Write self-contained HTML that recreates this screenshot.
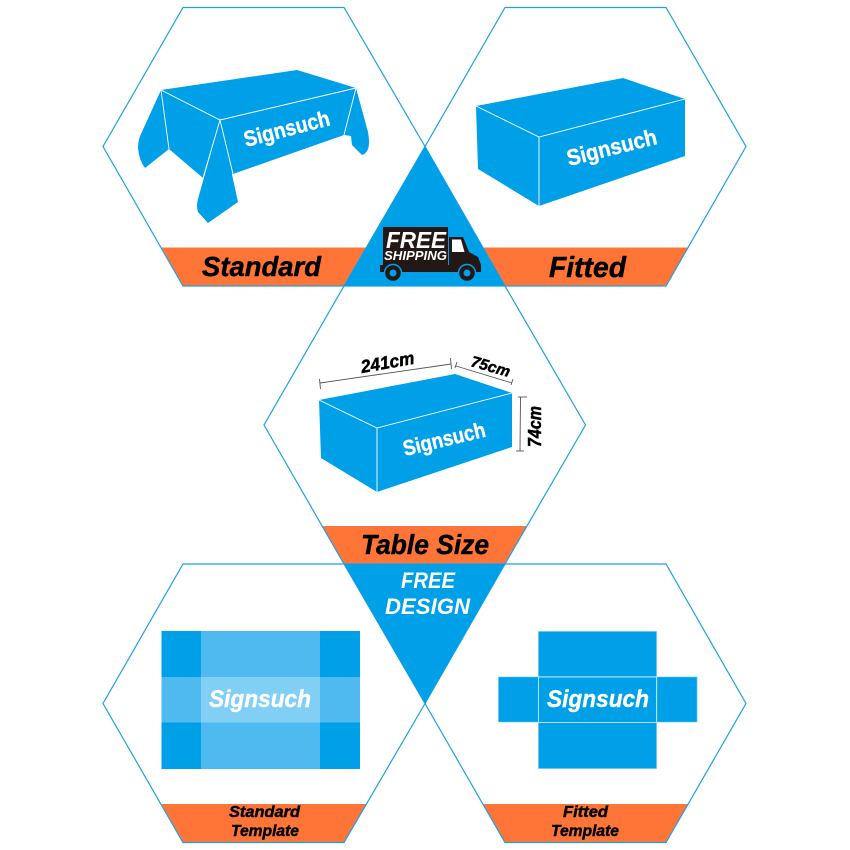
<!DOCTYPE html>
<html><head><meta charset="utf-8"><style>
html,body{margin:0;padding:0;background:#fff}
svg{display:block}
text{font-family:"Liberation Sans",sans-serif;font-weight:bold;font-style:italic}
.k{stroke:#000;stroke-width:.45px}
.w{stroke:#fff;stroke-width:.4px}
</style></head><body>
<svg width="850" height="850" viewBox="0 0 850 850" xmlns="http://www.w3.org/2000/svg">
<rect width="850" height="850" fill="#fff"/>
<!-- orange bands -->
<g fill="#ff7538">
<polygon points="161.500,247.500 366,247.500 344,286 183,286"/>
<polygon points="483,247.500 688,247.500 666,286 505,286"/>
<polygon points="322,526 527,526 505,564 344,564"/>
<polygon points="161.500,804 366,804 344,842.500 183,842.500"/>
<polygon points="483,804 688,804 666,842.500 505,842.500"/>
</g>
<!-- hexagons -->
<g fill="none" stroke="#1f9fe6" stroke-width="1.200">
<polygon points="183,7.500 344,7.500 425,146.500 344,286 183,286 103,146.500"/>
<polygon points="505,7.500 666,7.500 746,146.500 666,286 505,286 425,146.500"/>
<polygon points="344,286 505,286 585.500,425 505,564 344,564 264,425"/>
<polygon points="183,564 344,564 425,703.500 344,842.500 183,842.500 103,703.500"/>
<polygon points="505,564 666,564 746,703.500 666,842.500 505,842.500 425,703.500"/>
</g>
<!-- triangles -->
<polygon points="425,146 505,286 344,286" fill="#00a0e9"/>
<polygon points="344,564 505,564 425,704" fill="#00a0e9"/>
<!-- standard cloth -->
<g fill="#00a0e9">
<polygon points="161,90 297,70 356,88 344,135 233,174 220,120 203,178 169,149"/>
<path d="M161,90 L169,149 L145,168 Q139,160 138,148 Q138,140 141,134 Z"/>
<path d="M356,88 L368,132 Q370,144 368,149 Q366,154 362,155 L352,145 L351,136 L344,135 Z"/>
<path d="M220,120 L238,202 L208,223 L198,212 Q196,206 198,199 Z"/>
<polygon points="220,120 233,174 225,175 210,178"/>
</g>
<g fill="none" stroke="#fff" stroke-width="0.900">
<polyline points="161,90 220,120 356,88"/>
<polyline points="203,178 220,120 233,174"/>
<line x1="161" y1="90" x2="169" y2="149"/>
<line x1="356" y1="88" x2="344" y2="135"/>
</g>
<text class="w" x="246" y="147" font-size="22" fill="#fff" textLength="88" lengthAdjust="spacingAndGlyphs" transform="rotate(-14.500 246 147)" style="font-style:normal">Signsuch</text>
<!-- fitted box -->
<polygon points="476,106 623,78 685,99 685,156 539,206 478,169" fill="#00a0e9"/>
<g fill="none" stroke="#fff" stroke-width="0.900">
<polyline points="476,106 539,137 685,99"/>
<line x1="539" y1="137" x2="539" y2="206"/>
</g>
<text class="w" x="569" y="166" font-size="22.500" fill="#fff" textLength="92" lengthAdjust="spacingAndGlyphs" transform="rotate(-14 569 166)" style="font-style:normal">Signsuch</text>
<!-- size box -->
<polygon points="319,400 455,374 512,393 512,447 377,492 321,458" fill="#00a0e9"/>
<g fill="none" stroke="#fff" stroke-width="0.900">
<polyline points="319,400 377,428 512,393"/>
<line x1="377" y1="428" x2="377" y2="492"/>
</g>
<text class="w" x="405" y="456" font-size="21.500" fill="#fff" textLength="84" lengthAdjust="spacingAndGlyphs" transform="rotate(-13.500 405 456)" style="font-style:normal">Signsuch</text>
<!-- dimensions -->
<g fill="none" stroke="#555" stroke-width="0.900">
<line x1="320" y1="383" x2="451" y2="364"/>
<line x1="319.500" y1="379" x2="320.500" y2="389"/>
<line x1="450.500" y1="358" x2="451.500" y2="369"/>
<line x1="456" y1="366" x2="512" y2="383"/>
<line x1="457" y1="362" x2="455" y2="368"/>
<line x1="513" y1="379" x2="511" y2="385"/>
<line x1="520.500" y1="397" x2="520" y2="451"/>
<line x1="518" y1="397" x2="527" y2="397"/>
<line x1="516" y1="451" x2="524" y2="451"/>
</g>
<g fill="#000">
<text class="k" x="362" y="373" font-size="18" textLength="54" lengthAdjust="spacingAndGlyphs" transform="rotate(-10 362 373)">241cm</text>
<text class="k" x="470" y="366" font-size="15.500" textLength="40" lengthAdjust="spacingAndGlyphs" transform="rotate(16 470 366)">75cm</text>
<text class="k" x="541" y="447" font-size="18" textLength="41" lengthAdjust="spacingAndGlyphs" transform="rotate(-90 541 447)">74cm</text>
</g>
<!-- band labels -->
<g fill="#000">
<text class="k" x="202" y="276" font-size="28" textLength="119" lengthAdjust="spacingAndGlyphs">Standard</text>
<text class="k" x="549" y="277" font-size="29" textLength="77" lengthAdjust="spacingAndGlyphs">Fitted</text>
<text class="k" x="361" y="554" font-size="28" textLength="128" lengthAdjust="spacingAndGlyphs">Table Size</text>
<text class="k" x="229" y="817" font-size="16" textLength="71" lengthAdjust="spacingAndGlyphs">Standard</text>
<text class="k" x="231" y="836" font-size="16" textLength="68" lengthAdjust="spacingAndGlyphs">Template</text>
<text class="k" x="563" y="817" font-size="16" textLength="45" lengthAdjust="spacingAndGlyphs">Fitted</text>
<text class="k" x="551" y="836" font-size="16" textLength="68" lengthAdjust="spacingAndGlyphs">Template</text>
</g>
<text x="401" y="588" font-size="22" fill="#fff" textLength="54" lengthAdjust="spacingAndGlyphs">FREE</text>
<text x="385" y="614" font-size="22.500" fill="#fff" textLength="85" lengthAdjust="spacingAndGlyphs">DESIGN</text>
<!-- truck -->
<g>
<polygon points="383,227 448,227 448,265 481,265 481,272 380,272 380,265 383,265" fill="#231815"/>
<polygon points="449,237 463,237 469,252 478,257 481,265 481,272 449,272" fill="#231815"/>
<polygon points="452,239.500 461,239.500 464.500,252 452,252" fill="#fff"/>
<circle cx="393" cy="273" r="8.500" fill="#231815" stroke="#00a0e9" stroke-width="1.500"/>
<circle cx="393" cy="273" r="3.500" fill="#00a0e9"/>
<circle cx="467" cy="273" r="8.500" fill="#231815" stroke="#00a0e9" stroke-width="1.500"/>
<circle cx="467" cy="273" r="3.500" fill="#00a0e9"/>
<text x="386" y="248" font-size="23" fill="#fff" textLength="60" lengthAdjust="spacingAndGlyphs">FREE</text>
<text x="384" y="260" font-size="13" fill="#fff" textLength="63" lengthAdjust="spacingAndGlyphs">SHIPPING</text>
</g>
<!-- standard template -->
<rect x="161.500" y="631" width="198.500" height="138" fill="#4fbaef"/>
<g fill="#00a0e9">
<rect x="161.500" y="631" width="39.500" height="46"/>
<rect x="320" y="631" width="40" height="46"/>
<rect x="161.500" y="722.500" width="39.500" height="46.500"/>
<rect x="320" y="722.500" width="40" height="46.500"/>
</g>
<rect x="201" y="677" width="119" height="45.500" fill="#82cff6"/>
<text class="w" x="209" y="707" font-size="24" fill="#fff" textLength="102" lengthAdjust="spacingAndGlyphs">Signsuch</text>
<!-- fitted template -->
<g fill="#00a0e9" stroke="#5fc1f0" stroke-width="0.600">
<rect x="538.500" y="631.500" width="118" height="45"/>
<rect x="538.500" y="722.500" width="118" height="46"/>
<rect x="498.500" y="677" width="40" height="45"/>
<rect x="657" y="677" width="40" height="45"/>
</g>
<rect x="538.500" y="677" width="118" height="45.500" fill="#00a0e9" stroke="#b5e2f9" stroke-width="1"/>
<text class="w" x="547" y="707" font-size="24" fill="#fff" textLength="102" lengthAdjust="spacingAndGlyphs">Signsuch</text>
</svg>
</body></html>
